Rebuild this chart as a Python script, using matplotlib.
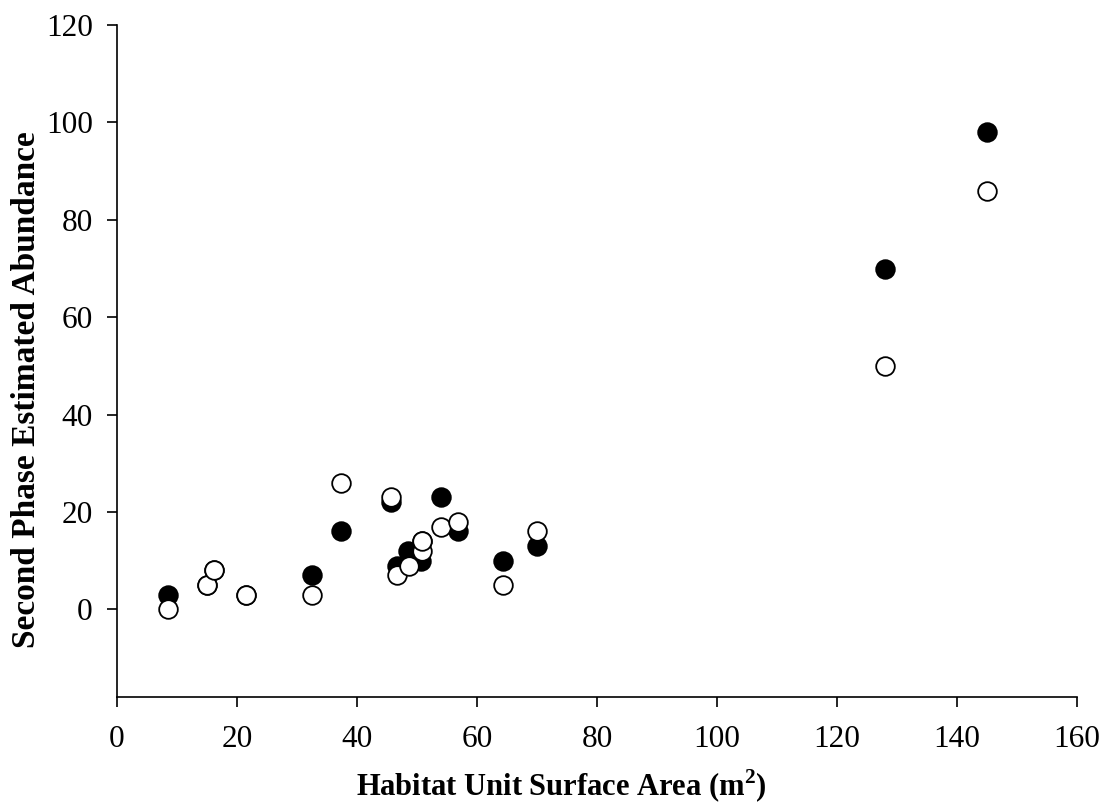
import matplotlib
matplotlib.use('Agg')
import matplotlib.pyplot as plt

plt.rcParams['font.family'] = ['Liberation Serif', 'DejaVu Serif']
plt.rcParams['mathtext.fontset'] = 'custom'
plt.rcParams['mathtext.rm'] = 'Liberation Serif'
plt.rcParams['mathtext.bf'] = 'Liberation Serif:bold'

# Habitat unit surface area (m2) and estimated abundance
area_filled = [8.5, 15.0, 16.2, 21.5, 32.5, 37.3, 45.7, 46.6, 48.5, 50.7, 50.8, 54.0, 56.8, 64.3, 70.0, 128.0, 145.0]
abund_filled = [3, 5, 8, 3, 7, 16, 22, 9, 12, 10, 14, 23, 16, 10, 13, 70, 98]

area_open = [8.5, 15.0, 16.2, 21.5, 32.5, 37.3, 45.7, 46.7, 48.7, 50.8, 50.8, 54.0, 56.8, 64.3, 70.0, 128.0, 145.0]
abund_open = [0, 5, 8, 3, 3, 26, 23, 7, 9, 12, 14, 17, 18, 5, 16, 50, 86]

x_ticks = [0, 20, 40, 60, 80, 100, 120, 140, 160]
y_ticks = [0, 20, 40, 60, 80, 100, 120]

fig = plt.figure(figsize=(11.06, 8.08), dpi=100)
ax = fig.add_axes([0.1058, 0.1374, 0.868, 0.8316])

ax.scatter(area_filled, abund_filled, s=180, c='black', edgecolors='black', linewidths=1.3, zorder=2)
ax.scatter(area_open, abund_open, s=180, c='white', edgecolors='black', linewidths=1.3, zorder=3)

ax.set_xlim(0, 160)
ax.set_ylim(-18, 120)
ax.set_xticks(x_ticks)
ax.set_yticks(y_ticks)
ax.tick_params(direction='out', length=7.5, width=1.2, labelsize=22.5)
ax.tick_params(axis='x', pad=13)
ax.tick_params(axis='y', pad=10)

ax.spines['top'].set_visible(False)
ax.spines['right'].set_visible(False)
ax.spines['left'].set_linewidth(1.2)
ax.spines['bottom'].set_linewidth(1.2)

ax.set_xlabel(r'Habitat Unit Surface Area (m$^{\mathbf{2}}$)', fontsize=22, fontweight='bold')
ax.set_ylabel('Second Phase Estimated Abundance', fontsize=24, fontweight='bold')
ax.xaxis.set_label_coords(0.4625, -0.105)
ax.yaxis.set_label_coords(-0.078, 0.457)

fig.savefig('out.png', dpi=100)
